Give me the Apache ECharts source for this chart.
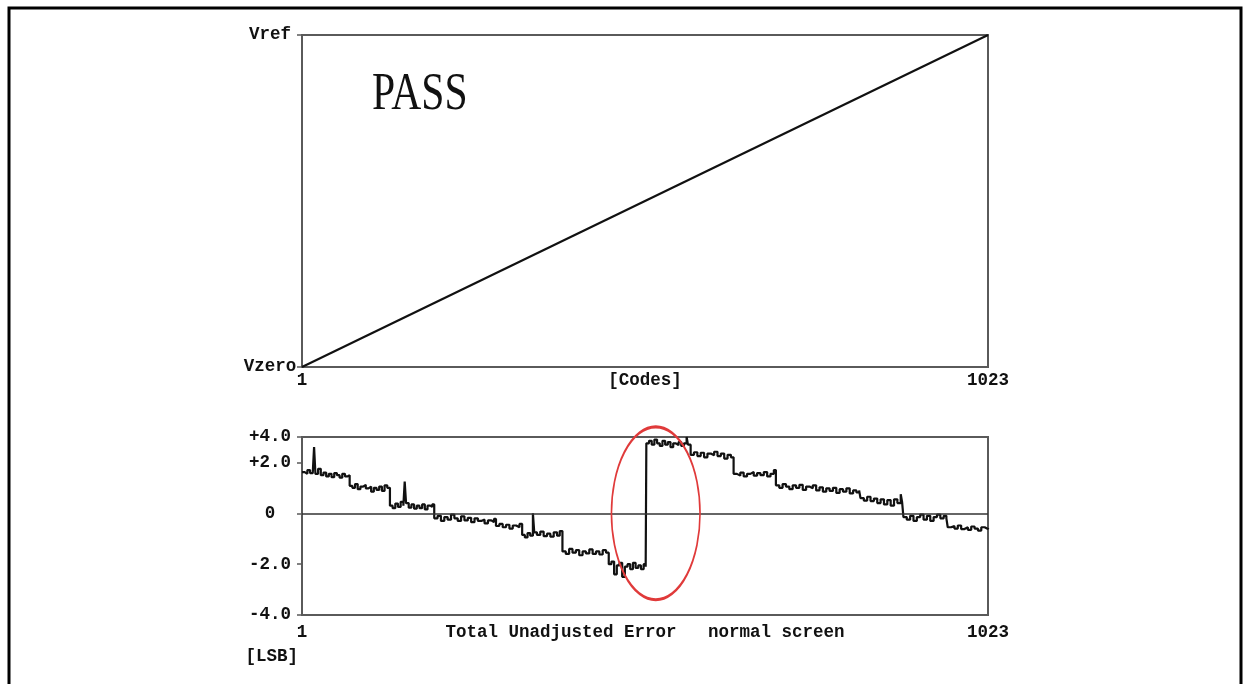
<!DOCTYPE html>
<html>
<head>
<meta charset="utf-8">
<script src="https://cdn.jsdelivr.net/npm/echarts@6/dist/echarts.min.js"></script>
<style>
html,body{margin:0;padding:0;background:#fff;}
#chart{width:1249px;height:684px;}
</style>
</head>
<body>
<div id="chart"></div>
<script>
// ---- Top chart: transfer curve (code -> voltage, normalised) ----
var transferCodes = [1, 1023];
var transferVolts = [0, 1];
var transferTickValues = [0, 1];
var transferTickLabels = ['Vzero', 'Vref'];
var codeTickValues = [1, 1023];
var codeTickLabels = ['1', '1023'];

// ---- Bottom chart: Total Unadjusted Error (LSB) per code ----
var errCodes = [
  1,5,9,13,17,19,21,25,29,33,37,41,45,49,53,57,61,65,69,
  72,76,80,84,88,92,96,100,104,108,112,116,120,124,128,
  132,136,140,144,148,152,154,156,160,164,168,172,176,180,184,188,192,195,
  198,203,208,213,218,223,228,233,238,243,248,253,258,263,268,273,278,283,287,
  290,295,300,305,310,315,320,325,
  329,333,337,341,345,347,351,356,361,366,371,376,381,385,
  389,394,399,404,409,414,419,424,429,434,439,444,449,454,
  458,462,466,470,474,478,482,486,490,494,498,502,506,510,513,
  514,518,522,526,530,534,538,542,546,550,554,558,562,566,570,574,576,
  580,585,590,595,600,605,610,615,620,625,630,635,640,
  644,649,654,659,664,669,674,679,684,689,694,699,704,
  707,712,717,722,727,732,737,742,747,752,757,762,767,772,777,782,787,792,797,802,807,812,817,822,827,831,
  833,838,843,848,853,858,863,868,873,878,883,888,893,895,
  897,902,907,912,917,922,927,932,937,942,947,952,957,961,
  963,968,973,978,983,988,993,998,1003,1008,1013,1018,1023
];
var errValues = [
  1.62,1.55,1.70,1.58,1.65,2.60,1.55,1.75,1.50,1.60,1.45,1.55,1.42,1.58,1.50,1.40,1.55,1.45,1.50,
  1.08,1.00,1.15,0.95,1.05,1.12,0.98,1.05,0.85,1.00,0.92,1.05,0.88,1.10,1.00,
  0.30,0.20,0.38,0.25,0.45,0.30,1.25,0.40,0.22,0.35,0.18,0.30,0.20,0.35,0.15,0.30,0.25,0.35,
  -0.20,-0.10,-0.30,-0.15,-0.25,-0.05,-0.20,-0.30,-0.12,-0.28,-0.18,-0.35,-0.20,-0.30,-0.25,-0.40,-0.28,-0.35,-0.22,
  -0.50,-0.42,-0.55,-0.45,-0.60,-0.48,-0.55,-0.42,
  -0.85,-0.95,-0.78,-0.88,0.00,-0.75,-0.85,-0.72,-0.90,-0.80,-0.92,-0.75,-0.88,-0.70,
  -1.50,-1.60,-1.40,-1.55,-1.45,-1.65,-1.50,-1.58,-1.42,-1.60,-1.50,-1.62,-1.45,-1.55,
  -2.00,-1.90,-2.40,-2.05,-1.95,-2.50,-2.10,-2.00,-2.20,-1.95,-2.15,-2.05,-2.20,-2.00,-2.10,
  2.75,2.85,2.70,2.90,2.75,2.65,2.85,2.70,2.80,2.60,2.75,2.68,2.80,2.65,2.75,3.00,2.70,
  2.30,2.40,2.25,2.38,2.20,2.35,2.28,2.42,2.25,2.35,2.15,2.30,2.20,
  1.55,1.48,1.60,1.45,1.55,1.62,1.48,1.58,1.50,1.62,1.45,1.55,1.70,
  1.10,1.00,1.15,1.05,0.95,1.10,1.00,1.12,0.92,1.05,0.98,1.10,0.90,1.02,0.85,0.98,0.88,1.00,0.80,0.95,0.85,0.98,0.78,0.90,0.82,0.90,
  0.60,0.50,0.65,0.48,0.58,0.40,0.55,0.35,0.52,0.30,0.55,0.40,0.75,0.45,
  -0.15,-0.25,-0.10,-0.30,-0.15,-0.05,-0.25,-0.10,-0.30,-0.15,-0.05,-0.20,-0.10,-0.20,
  -0.55,-0.50,-0.60,-0.48,-0.62,-0.55,-0.65,-0.52,-0.60,-0.68,-0.55,-0.62,-0.58
];
var errTickValues = [-4, -2, 0, 2, 3];
var errTickLabels = ['-4.0', '-2.0', '0', '+2.0', '+4.0'];
var errXName = 'Total Unadjusted Error   normal screen';
var errYName = '[LSB]';
var passText = 'PASS';
// highlighted region (annotation ellipse) in data units: centre code/LSB and half-extents
var ellipseCenter = [528, 0];
var ellipseHalf = [66, 3.4];

var labelFont = {fontFamily: 'Liberation Mono', fontWeight: 'bold', fontSize: 17.5, color: '#111'};

function lbl(values, labels) {
  return function (v) {
    for (var i = 0; i < values.length; i++) {
      if (Math.abs(values[i] - v) < 1e-6) return labels[i];
    }
    return '';
  };
}

var chart = echarts.init(document.getElementById('chart'), null, {renderer: 'canvas'});

var option = {
  backgroundColor: '#ffffff',
  animation: false,
  grid: [
    {left: 302, right: 261, top: 35, height: 332, show: true, borderColor: '#5a5a5a', borderWidth: 2, backgroundColor: 'transparent'},
    {left: 302, right: 261, top: 437, height: 178, show: true, borderColor: '#5a5a5a', borderWidth: 2, backgroundColor: 'transparent'}
  ],
  xAxis: [
    {
      type: 'value', gridIndex: 0, min: 1, max: 1023,
      axisLine: {show: true, onZero: false, lineStyle: {color: '#5a5a5a', width: 2}},
      axisTick: {show: false},
      splitLine: {show: false},
      axisLabel: Object.assign({customValues: codeTickValues, formatter: lbl(codeTickValues, codeTickLabels), margin: 5}, labelFont),
      name: '[Codes]', nameLocation: 'middle', nameGap: 5, nameMoveOverlap: false,
      nameTextStyle: Object.assign({verticalAlign: 'top'}, labelFont)
    },
    {
      type: 'value', gridIndex: 1, min: 1, max: 1023,
      axisLine: {show: true, onZero: false, lineStyle: {color: '#5a5a5a', width: 2}},
      axisTick: {show: false},
      splitLine: {show: false},
      axisLabel: Object.assign({customValues: codeTickValues, formatter: lbl(codeTickValues, codeTickLabels), margin: 9}, labelFont),
      name: errXName, nameLocation: 'middle', nameGap: 9, nameMoveOverlap: false,
      nameTextStyle: Object.assign({verticalAlign: 'top'}, labelFont)
    }
  ],
  yAxis: [
    {
      type: 'value', gridIndex: 0, min: 0, max: 1,
      axisLine: {show: true, lineStyle: {color: '#5a5a5a', width: 2}},
      axisTick: {show: true, customValues: transferTickValues, length: 5, lineStyle: {color: '#5a5a5a', width: 1.5}},
      splitLine: {show: false},
      axisLabel: Object.assign({customValues: transferTickValues, formatter: lbl(transferTickValues, transferTickLabels), margin: 32, align: 'center'}, labelFont)
    },
    {
      type: 'value', gridIndex: 1, min: -4, max: 3,
      axisLine: {show: true, lineStyle: {color: '#5a5a5a', width: 2}},
      axisTick: {show: true, customValues: errTickValues, length: 5, lineStyle: {color: '#5a5a5a', width: 1.5}},
      splitLine: {show: false},
      axisLabel: Object.assign({customValues: errTickValues, formatter: lbl(errTickValues, errTickLabels), margin: 32, align: 'center'}, labelFont),
      name: errYName, nameLocation: 'start', nameGap: 33, nameMoveOverlap: false,
      nameTextStyle: Object.assign({align: 'right', verticalAlign: 'top', padding: [0, 4, 0, 0]}, labelFont)
    }
  ],
  series: [
    {
      type: 'line', xAxisIndex: 0, yAxisIndex: 0,
      data: transferCodes.map(function (c, i) { return [c, transferVolts[i]]; }),
      showSymbol: false, symbol: 'none',
      lineStyle: {color: '#111', width: 2.2}
    },
    {
      type: 'line', xAxisIndex: 1, yAxisIndex: 1,
      data: errCodes.map(function (c, i) { return [c, errValues[i]]; }),
      showSymbol: false, symbol: 'none', step: 'end',
      lineStyle: {color: '#111', width: 2.2},
      markLine: {
        silent: true, symbol: ['none', 'none'],
        label: {show: false},
        lineStyle: {color: '#333', width: 1.5, type: 'solid'},
        data: [{yAxis: 0}]
      }
    }
  ]
};
chart.setOption(option);

// annotation ellipse + PASS text + outer frame
var c = chart.convertToPixel({gridIndex: 1}, ellipseCenter);
var e = chart.convertToPixel({gridIndex: 1}, [ellipseCenter[0] + ellipseHalf[0], ellipseCenter[1] + ellipseHalf[1]]);
var rx = Math.abs(e[0] - c[0]);
var ry = Math.abs(c[1] - e[1]);
var topLeft = chart.convertToPixel({gridIndex: 0}, [1, 1]);

chart.setOption({
  graphic: [
    {
      type: 'rect', z: 100,
      shape: {x: 9, y: 8, width: 1232, height: 720},
      style: {fill: 'none', stroke: '#000', lineWidth: 3}
    },
    {
      type: 'circle', z: 100,
      x: c[0], y: c[1], scaleX: 1, scaleY: ry / rx,
      shape: {cx: 0, cy: 0, r: rx},
      style: {fill: 'none', stroke: '#e03a3a', lineWidth: 1.6, strokeNoScale: true}
    },
    {
      type: 'text', z: 100,
      x: topLeft[0] + 70, y: topLeft[1] + 60,
      scaleX: 0.8, scaleY: 1,
      style: {text: passText, font: '52px "Liberation Serif"', fill: '#111', textAlign: 'left', textVerticalAlign: 'middle'}
    }
  ]
});
</script>
</body>
</html>
